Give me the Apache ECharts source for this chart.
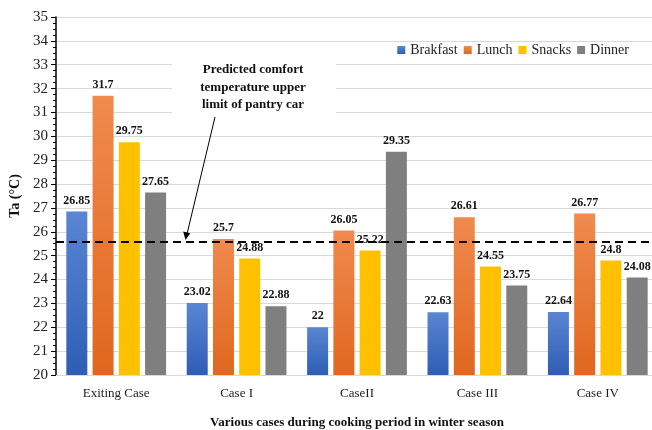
<!DOCTYPE html>
<html>
<head>
<meta charset="utf-8">
<script src="https://cdn.jsdelivr.net/npm/echarts@6/dist/echarts.min.js"></script>
<style>html,body{margin:0;padding:0;background:#fff}</style>
</head>
<body>
<div id="chart" style="width:652px;height:430px"></div>
<script>
var cases = ['Exiting Case', 'Case I', 'CaseII', 'Case III', 'Case IV']
var breakfast = [26.85, 23.02, 22, 22.63, 22.64]
var lunch = [31.7, 25.7, 26.05, 26.61, 26.77]
var snacks = [29.75, 24.88, 25.22, 24.55, 24.8]
var dinner = [27.65, 22.88, 29.35, 23.75, 24.08]
var comfortLimit = 25.6

var serif = '"Liberation Serif", "DejaVu Serif", serif'

function grad(top, bottom) {
  return new echarts.graphic.LinearGradient(0, 0, 0, 1, [
    { offset: 0, color: top },
    { offset: 1, color: bottom }
  ])
}

function barSeries(name, data, color) {
  return {
    name: name,
    type: 'bar',
    data: data,
    barWidth: 21,
    barGap: '25%',
    itemStyle: { color: color },
    label: {
      show: true,
      position: 'top',
      distance: 5,
      fontFamily: serif,
      fontWeight: 'bold',
      fontSize: 12,
      color: '#111'
    }
  }
}

var chart = echarts.init(document.getElementById('chart'))

var series = [
  barSeries('Brakfast', breakfast, grad('#5a86d2', '#2e5db5')),
  barSeries('Lunch', lunch, grad('#f08a4e', '#e0671e')),
  barSeries('Snacks', snacks, '#ffc000'),
  barSeries('Dinner', dinner, '#7f7f7f')
]
series[0].markLine = {
  silent: true,
  symbol: ['none', 'none'],
  label: { show: false },
  lineStyle: { color: '#000', type: [8, 5], width: 2 },
  data: [{ yAxis: comfortLimit }]
}

var option = {
  animation: false,
  grid: { left: 56, top: 17, bottom: 55, width: 602, outerBoundsMode: 'none', containLabel: false },
  legend: {
    right: 18,
    top: 38,
    itemWidth: 8,
    itemHeight: 8,
    itemGap: 6,
    icon: 'rect',
    textStyle: { fontFamily: serif, fontSize: 14, color: '#222' },
    data: ['Brakfast', 'Lunch', 'Snacks', 'Dinner']
  },
  xAxis: {
    type: 'category',
    data: cases,
    name: 'Various cases during cooking period in winter season',
    nameLocation: 'middle',
    nameGap: 41,
    nameTextStyle: { fontFamily: serif, fontWeight: 'bold', fontSize: 13, color: '#111' },
    axisLine: { show: true, lineStyle: { color: '#d9d9d9' } },
    axisTick: { show: false },
    axisLabel: { fontFamily: serif, fontSize: 13, color: '#222', margin: 12 }
  },
  yAxis: {
    type: 'value',
    min: 20,
    max: 35,
    interval: 1,
    name: 'Ta (°C)',
    nameLocation: 'middle',
    nameGap: 26,
    nameTextStyle: { fontFamily: serif, fontWeight: 'bold', fontSize: 14, color: '#111' },
    axisLine: { show: true, lineStyle: { color: '#000', width: 1.5 } },
    axisTick: { show: true, length: 5, lineStyle: { color: '#000' } },
    minorTick: { show: true, splitNumber: 4, length: 3, lineStyle: { color: '#000' } },
    axisLabel: { fontFamily: serif, fontSize: 15, color: '#222', margin: 8 },
    splitLine: { lineStyle: { color: '#d9d9d9' } }
  },
  series: series,
  graphic: [
    {
      type: 'rect',
      shape: { x: 172, y: 56, width: 164, height: 57 },
      style: { fill: '#fff' },
      z: 50
    },
    {
      type: 'text',
      x: 253,
      y: 61,
      z: 51,
      style: {
        text: 'Predicted comfort\ntemperature upper\nlimit of pantry car',
        fontFamily: serif,
        fontWeight: 'bold',
        fontSize: 13,
        lineHeight: 17.5,
        align: 'center',
        fill: '#111'
      }
    },
    {
      type: 'line',
      z: 51,
      shape: { x1: 215, y1: 117, x2: 187, y2: 234 },
      style: { stroke: '#000', lineWidth: 1 }
    },
    {
      type: 'polygon',
      z: 51,
      shape: { points: [[185.5, 240], [183.2, 231.5], [190.2, 233.2]] },
      style: { fill: '#000' }
    }
  ]
}

chart.setOption(option)
</script>
</body>
</html>
